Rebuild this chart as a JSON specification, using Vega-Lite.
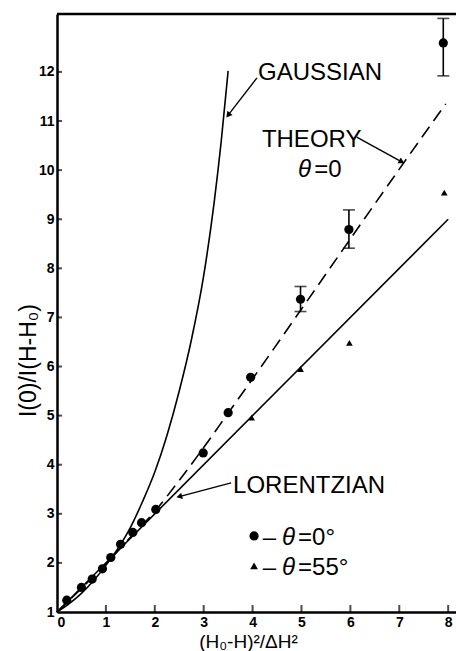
{
  "$schema": "https://vega.github.io/schema/vega-lite/v6.json",
  "width": 399,
  "height": 598,
  "autosize": {"type": "none"},
  "padding": {"left": 57, "top": 14, "right": 0, "bottom": 39},
  "background": "white",
  "config": {
    "view": {"stroke": null},
    "axis": {
      "grid": false,
      "ticks": false,
      "domainColor": "black",
      "domainWidth": 2.5,
      "labelFont": "Liberation Sans",
      "labelFontWeight": "bold",
      "labelFontSize": 14,
      "labelColor": "black",
      "titleFont": "Liberation Sans",
      "titleFontWeight": "normal",
      "titleFontSize": 19,
      "titleColor": "black"
    },
    "text": {"font": "Liberation Sans", "fontSize": 24, "color": "black", "align": "left", "baseline": "alphabetic"}
  },
  "datasets": {
    "gaussian": [
      {"x": 0.0, "y": 1.0}, {"x": 0.25, "y": 1.17}, {"x": 0.5, "y": 1.38}, {"x": 0.75, "y": 1.64},
      {"x": 1.0, "y": 1.95}, {"x": 1.25, "y": 2.3}, {"x": 1.5, "y": 2.72}, {"x": 1.75, "y": 3.25},
      {"x": 2.0, "y": 3.85}, {"x": 2.25, "y": 4.6}, {"x": 2.5, "y": 5.5}, {"x": 2.75, "y": 6.55},
      {"x": 3.0, "y": 7.85}, {"x": 3.22, "y": 9.39}, {"x": 3.36, "y": 10.6}, {"x": 3.5, "y": 12.02}
    ],
    "lorentzian": [
      {"x": 0.0, "y": 1.0}, {"x": 8.0, "y": 9.0}
    ],
    "theory": [
      {"x": 0.0, "y": 1.0}, {"x": 0.5, "y": 1.48}, {"x": 1.0, "y": 1.98}, {"x": 1.5, "y": 2.52},
      {"x": 2.0, "y": 3.05}, {"x": 2.5, "y": 3.68}, {"x": 3.0, "y": 4.35}, {"x": 3.5, "y": 5.05},
      {"x": 4.0, "y": 5.75}, {"x": 5.0, "y": 7.17}, {"x": 6.0, "y": 8.6}, {"x": 7.0, "y": 10.02},
      {"x": 7.95, "y": 11.35}
    ],
    "theta0": [
      {"x": 0.2, "y": 1.24}, {"x": 0.5, "y": 1.5}, {"x": 0.72, "y": 1.67}, {"x": 0.93, "y": 1.88},
      {"x": 1.1, "y": 2.11}, {"x": 1.3, "y": 2.38}, {"x": 1.55, "y": 2.62}, {"x": 1.73, "y": 2.82},
      {"x": 2.02, "y": 3.09}, {"x": 2.99, "y": 4.24}, {"x": 3.5, "y": 5.06}, {"x": 3.96, "y": 5.78},
      {"x": 4.98, "y": 7.37}, {"x": 5.97, "y": 8.79}, {"x": 7.9, "y": 12.59}
    ],
    "errors": [
      {"x": 4.98, "lo": 7.12, "hi": 7.63},
      {"x": 5.97, "lo": 8.41, "hi": 9.19},
      {"x": 7.9, "lo": 11.92, "hi": 13.09}
    ],
    "theta55": [
      {"x": 3.98, "y": 4.96}, {"x": 4.98, "y": 5.95}, {"x": 5.98, "y": 6.48}, {"x": 7.92, "y": 9.54}
    ],
    "xticks": [
      {"x": 1, "y": 1}, {"x": 2, "y": 1}, {"x": 3, "y": 1}, {"x": 4, "y": 1},
      {"x": 5, "y": 1}, {"x": 6, "y": 1}, {"x": 7, "y": 1}, {"x": 8, "y": 1}
    ],
    "yticks": [
      {"x": 0, "y": 2}, {"x": 0, "y": 3}, {"x": 0, "y": 4}, {"x": 0, "y": 5}, {"x": 0, "y": 6},
      {"x": 0, "y": 7}, {"x": 0, "y": 8}, {"x": 0, "y": 9}, {"x": 0, "y": 10}, {"x": 0, "y": 11},
      {"x": 0, "y": 12}
    ],
    "arrows": [
      {"name": "gaussian", "x": 4.09, "y": 11.88, "x2": 3.5, "y2": 11.12},
      {"name": "theory", "x": 6.13, "y": 10.67, "x2": 7.05, "y2": 10.17},
      {"name": "lorentzian", "x": 3.56, "y": 3.63, "x2": 2.5, "y2": 3.35}
    ],
    "labels": [
      {"x": 4.11, "y": 11.83, "text": "GAUSSIAN"},
      {"x": 4.19, "y": 10.48, "text": "THEORY"},
      {"x": 5.26, "y": 9.86, "text": "=0"},
      {"x": 3.6, "y": 3.42, "text": "LORENTZIAN"},
      {"x": 4.21, "y": 2.36, "text": "–"},
      {"x": 4.93, "y": 2.36, "text": "=0°"},
      {"x": 4.21, "y": 1.75, "text": "–"},
      {"x": 4.93, "y": 1.75, "text": "=55°"}
    ],
    "thetas": [
      {"x": 4.93, "y": 9.86, "text": "θ"},
      {"x": 4.6, "y": 2.36, "text": "θ"},
      {"x": 4.6, "y": 1.75, "text": "θ"}
    ],
    "legend0": [{"x": 4.03, "y": 2.55}],
    "legend55": [{"x": 4.03, "y": 1.94}]
  },
  "layer": [
    {
      "data": {"name": "lorentzian"},
      "mark": {"type": "line", "color": "black", "strokeWidth": 1.6},
      "encoding": {
        "x": {
          "field": "x", "type": "quantitative",
          "scale": {"domain": [0, 8.16], "nice": false, "zero": false},
          "axis": {"values": [0, 1, 2, 3, 4, 5, 6, 7, 8], "title": "(H₀-H)²/ΔH²", "labelPadding": 3, "titleX": 191, "titleY": 35, "titleBaseline": "alphabetic"}
        },
        "y": {
          "field": "y", "type": "quantitative",
          "scale": {"domain": [1, 13.18], "nice": false, "zero": false},
          "axis": {"values": [1, 2, 3, 4, 5, 6, 7, 8, 9, 10, 11, 12], "title": "I(0)/I(H-H₀)", "labelPadding": 3, "titleX": -29, "titleY": 346, "titleBaseline": "middle", "titleFontSize": 23}
        }
      }
    },
    {
      "data": {"name": "xticks"},
      "mark": {"type": "tick", "color": "black", "orient": "vertical", "size": 14, "thickness": 2, "clip": true},
      "encoding": {
        "x": {"field": "x", "type": "quantitative"},
        "y": {"field": "y", "type": "quantitative"}
      }
    },
    {
      "data": {"name": "yticks"},
      "mark": {"type": "tick", "color": "black", "orient": "horizontal", "size": 10, "thickness": 2, "clip": true},
      "encoding": {
        "x": {"field": "x", "type": "quantitative"},
        "y": {"field": "y", "type": "quantitative"}
      }
    },
    {
      "data": {"name": "gaussian"},
      "mark": {"type": "line", "color": "black", "strokeWidth": 1.6, "interpolate": "monotone"},
      "encoding": {
        "x": {"field": "x", "type": "quantitative"},
        "y": {"field": "y", "type": "quantitative"}
      }
    },
    {
      "data": {"name": "theory"},
      "mark": {"type": "line", "color": "black", "strokeWidth": 1.6, "strokeDash": [13, 7], "interpolate": "monotone"},
      "encoding": {
        "x": {"field": "x", "type": "quantitative"},
        "y": {"field": "y", "type": "quantitative"}
      }
    },
    {
      "data": {"name": "errors"},
      "mark": {"type": "rule", "color": "black", "strokeWidth": 1.6},
      "encoding": {
        "x": {"field": "x", "type": "quantitative"},
        "y": {"field": "lo", "type": "quantitative"},
        "y2": {"field": "hi"}
      }
    },
    {
      "data": {"name": "errors"},
      "mark": {"type": "tick", "color": "black", "orient": "horizontal", "size": 12, "thickness": 1.6},
      "encoding": {
        "x": {"field": "x", "type": "quantitative"},
        "y": {"field": "lo", "type": "quantitative"}
      }
    },
    {
      "data": {"name": "errors"},
      "mark": {"type": "tick", "color": "black", "orient": "horizontal", "size": 12, "thickness": 1.6},
      "encoding": {
        "x": {"field": "x", "type": "quantitative"},
        "y": {"field": "hi", "type": "quantitative"}
      }
    },
    {
      "data": {"name": "theta0"},
      "mark": {"type": "point", "shape": "circle", "filled": true, "color": "black", "opacity": 1, "size": 85},
      "encoding": {
        "x": {"field": "x", "type": "quantitative"},
        "y": {"field": "y", "type": "quantitative"}
      }
    },
    {
      "data": {"name": "theta55"},
      "mark": {"type": "point", "shape": "triangle-up", "filled": true, "color": "black", "opacity": 1, "size": 45},
      "encoding": {
        "x": {"field": "x", "type": "quantitative"},
        "y": {"field": "y", "type": "quantitative"}
      }
    },
    {
      "data": {"name": "arrows"},
      "mark": {"type": "rule", "color": "black", "strokeWidth": 1.4},
      "encoding": {
        "x": {"field": "x", "type": "quantitative"},
        "y": {"field": "y", "type": "quantitative"},
        "x2": {"field": "x2"},
        "y2": {"field": "y2"}
      }
    },
    {
      "data": {"name": "arrows"},
      "transform": [{"filter": "datum.name === 'gaussian'"}],
      "mark": {"type": "point", "shape": "triangle-up", "filled": true, "color": "black", "opacity": 1, "size": 45, "angle": 218},
      "encoding": {
        "x": {"field": "x2", "type": "quantitative"},
        "y": {"field": "y2", "type": "quantitative"}
      }
    },
    {
      "data": {"name": "arrows"},
      "transform": [{"filter": "datum.name === 'theory'"}],
      "mark": {"type": "point", "shape": "triangle-up", "filled": true, "color": "black", "opacity": 1, "size": 45, "angle": 120},
      "encoding": {
        "x": {"field": "x2", "type": "quantitative"},
        "y": {"field": "y2", "type": "quantitative"}
      }
    },
    {
      "data": {"name": "arrows"},
      "transform": [{"filter": "datum.name === 'lorentzian'"}],
      "mark": {"type": "point", "shape": "triangle-up", "filled": true, "color": "black", "opacity": 1, "size": 45, "angle": 255},
      "encoding": {
        "x": {"field": "x2", "type": "quantitative"},
        "y": {"field": "y2", "type": "quantitative"}
      }
    },
    {
      "data": {"name": "labels"},
      "mark": {"type": "text"},
      "encoding": {
        "x": {"field": "x", "type": "quantitative"},
        "y": {"field": "y", "type": "quantitative"},
        "text": {"field": "text"}
      }
    },
    {
      "data": {"name": "thetas"},
      "mark": {"type": "text", "fontStyle": "italic"},
      "encoding": {
        "x": {"field": "x", "type": "quantitative"},
        "y": {"field": "y", "type": "quantitative"},
        "text": {"field": "text"}
      }
    },
    {
      "data": {"name": "legend0"},
      "mark": {"type": "point", "shape": "circle", "filled": true, "color": "black", "opacity": 1, "size": 85},
      "encoding": {
        "x": {"field": "x", "type": "quantitative"},
        "y": {"field": "y", "type": "quantitative"}
      }
    },
    {
      "data": {"name": "legend55"},
      "mark": {"type": "point", "shape": "triangle-up", "filled": true, "color": "black", "opacity": 1, "size": 60},
      "encoding": {
        "x": {"field": "x", "type": "quantitative"},
        "y": {"field": "y", "type": "quantitative"}
      }
    },
    {
      "data": {"values": [{"y": 13.18}]},
      "mark": {"type": "rule", "color": "black", "strokeWidth": 2.5},
      "encoding": {
        "y": {"field": "y", "type": "quantitative"}
      }
    }
  ]
}
